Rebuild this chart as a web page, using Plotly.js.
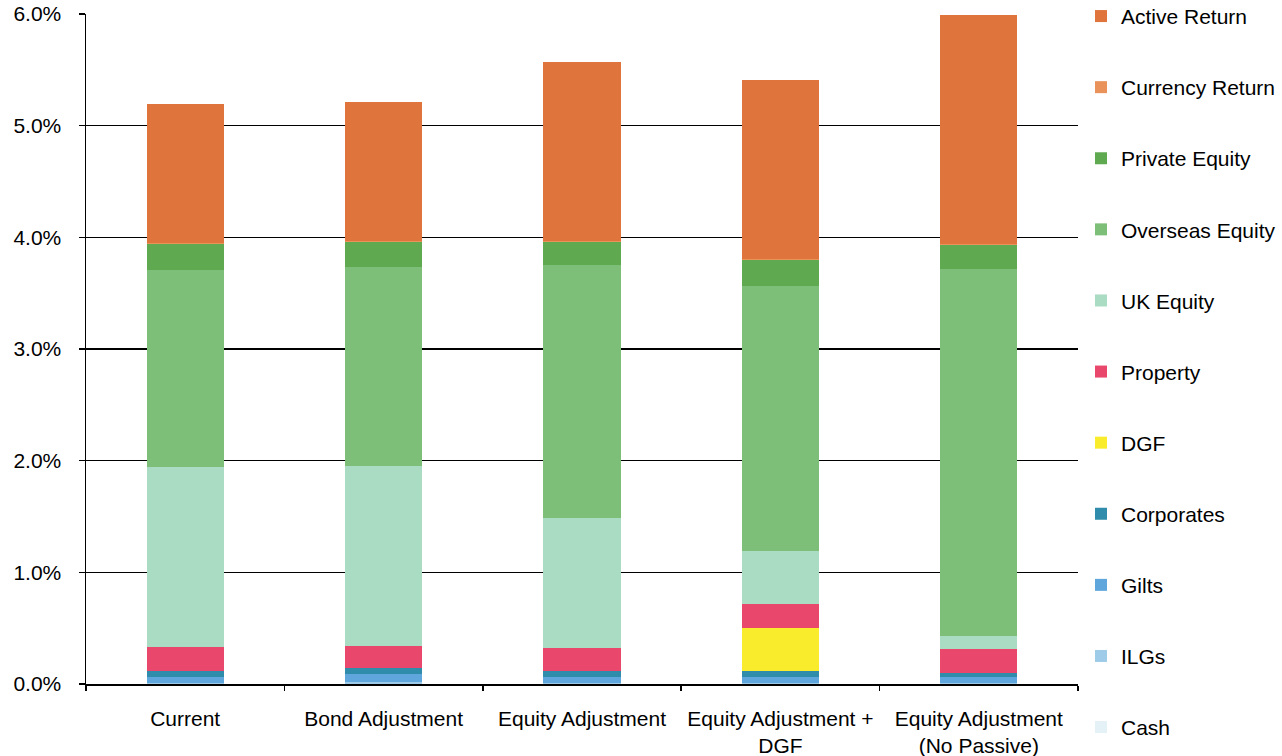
<!DOCTYPE html>
<html>
<head>
<meta charset="utf-8">
<script src="https://cdn.plot.ly/plotly-3.0.1.min.js"></script>
<style>
  html, body { margin: 0; padding: 0; background: #ffffff; }
  #chart { width: 1282px; height: 756px; }
</style>
</head>
<body>
<div id="chart"></div>
<script>
// Expected return build-up by portfolio scenario (values in %)
const categories = [
  "Current",
  "Bond Adjustment",
  "Equity Adjustment",
  "Equity Adjustment +<br>DGF",
  "Equity Adjustment<br>(No Passive)"
];

// Stack components, bottom to top
const cash           = [0.00, 0.00, 0.00, 0.00, 0.00];
const ilgs           = [0.01, 0.02, 0.01, 0.01, 0.01];
const gilts          = [0.05, 0.07, 0.05, 0.05, 0.05];
const corporates     = [0.06, 0.05, 0.06, 0.06, 0.04];
const dgf            = [0.00, 0.00, 0.00, 0.38, 0.00];
const property       = [0.21, 0.20, 0.20, 0.22, 0.21];
const ukEquity       = [1.61, 1.61, 1.17, 0.47, 0.12];
const overseasEquity = [1.77, 1.78, 2.26, 2.37, 3.29];
const privateEquity  = [0.23, 0.23, 0.21, 0.24, 0.21];
const currencyReturn = [0.01, 0.01, 0.01, 0.01, 0.01];
const activeReturn   = [1.24, 1.24, 1.60, 1.60, 2.05];

const yTicks = [0, 1, 2, 3, 4, 5, 6];

const series = [
  { name: "Cash",            values: cash,           color: "#e4f1f7" },
  { name: "ILGs",            values: ilgs,           color: "#9dcbe8" },
  { name: "Gilts",           values: gilts,          color: "#5ea6dc" },
  { name: "Corporates",      values: corporates,     color: "#2f8cab" },
  { name: "DGF",             values: dgf,            color: "#f8ec2c" },
  { name: "Property",        values: property,       color: "#e9476b" },
  { name: "UK Equity",       values: ukEquity,       color: "#a9dcc3" },
  { name: "Overseas Equity", values: overseasEquity, color: "#7dbf78" },
  { name: "Private Equity",  values: privateEquity,  color: "#5fa950" },
  { name: "Currency Return", values: currencyReturn, color: "#e9925a" },
  { name: "Active Return",   values: activeReturn,   color: "#df743c" }
];

// Legend lists the top of the stack first
const traces = series.map((s, i) => ({
  type: "bar",
  name: s.name,
  x: categories,
  y: s.values.map(v => v / 100),
  marker: { color: s.color, line: { width: 0 } },
  legendgroup: s.name,
  legendrank: series.length - i,
  hoverinfo: "x+y+name"
}));

const font = { family: "Liberation Sans, Arial, sans-serif", size: 21, color: "#000000" };

const layout = {
  width: 1282,
  height: 756,
  margin: { l: 86, r: 204, t: 14, b: 72, autoexpand: false },
  paper_bgcolor: "#ffffff",
  plot_bgcolor: "#ffffff",
  barmode: "stack",
  bargap: 0.61,
  font: font,
  showlegend: true,
  legend: {
    x: 1.003,
    xanchor: "left",
    y: 1.027,
    yanchor: "top",
    traceorder: "grouped",
    tracegroupgap: 40.8,
    font: font,
    bgcolor: "rgba(0,0,0,0)",
    itemwidth: 30,
    maxheight: 756
  },
  xaxis: {
    type: "category",
    showline: true,
    linecolor: "#000000",
    linewidth: 1.5,
    ticks: "outside",
    tickson: "boundaries",
    ticklen: 5,
    tickcolor: "#000000",
    tickwidth: 1.5,
    showgrid: false,
    tickfont: font,
    ticklabelstandoff: 15
  },
  yaxis: {
    range: [0, 0.06],
    tickvals: yTicks.map(t => t / 100),
    tickformat: ".1%",
    showline: true,
    linecolor: "#000000",
    linewidth: 1.5,
    ticks: "outside",
    ticklen: 6,
    tickcolor: "#000000",
    tickwidth: 1.5,
    showgrid: true,
    gridcolor: "#000000",
    gridwidth: 1.5,
    zeroline: false,
    tickfont: font,
    ticklabelstandoff: 13
  }
};

Plotly.newPlot("chart", traces, layout, { displayModeBar: false, staticPlot: true });
</script>
</body>
</html>
